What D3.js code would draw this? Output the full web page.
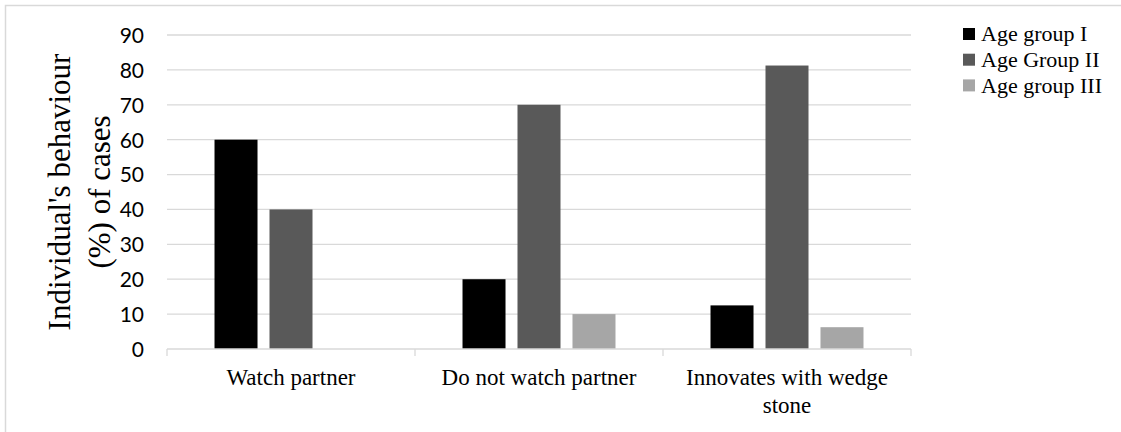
<!DOCTYPE html>
<html>
<head>
<meta charset="utf-8">
<script src="https://cdn.jsdelivr.net/npm/d3@7"></script>
<style>
  html, body { margin: 0; padding: 0; background: #fff; }
  svg { display: block; }
  .serif { font-family: "Liberation Serif", "Times New Roman", Times, "DejaVu Serif", serif; }
  .sans { font-family: Lato, "Open Sans", sans-serif; }
</style>
</head>
<body>
<svg id="chart" width="1121" height="432"></svg>
<script>
// Behaviour categories and the share of cases for each age group
const categories = ["Watch partner", "Do not watch partner", "Innovates with wedge stone"];
const seriesNames = ["Age group I", "Age Group II", "Age group III"];
const ageGroupI = [60, 20, 12.5];
const ageGroupII = [40, 70, 81.25];
const ageGroupIII = [0, 10, 6.25];
const yTicks = [0, 10, 20, 30, 40, 50, 60, 70, 80, 90];
const seriesColors = ["#000000", "#595959", "#a6a6a6"];

const seriesValues = [ageGroupI, ageGroupII, ageGroupIII];

const svg = d3.select("#chart");
const W = 1121, H = 432;

// chart frame (cropped at right and bottom)
svg.append("rect")
  .attr("x", 5.5).attr("y", 5.5)
  .attr("width", W + 20).attr("height", H + 20)
  .attr("fill", "#fff").attr("stroke", "#d9d9d9").attr("stroke-width", 1.5);

const plot = { left: 167, right: 911, top: 35, bottom: 349 };

const x0 = d3.scaleBand().domain(categories).range([plot.left, plot.right]).padding(0);
const x1 = d3.scaleBand().domain(seriesNames).range([0, x0.bandwidth()])
  .paddingInner(0.218).paddingOuter(0.864);
const y = d3.scaleLinear().domain([0, 90]).range([plot.bottom, plot.top]);

// horizontal gridlines
svg.append("g")
  .selectAll("line").data(yTicks.filter(t => t > 0)).join("line")
  .attr("x1", plot.left).attr("x2", plot.right)
  .attr("y1", d => y(d)).attr("y2", d => y(d))
  .attr("stroke", "#d9d9d9").attr("stroke-width", 1.3);

// y tick labels
const yAxis = d3.axisLeft(y).tickValues(yTicks).tickSize(0).tickPadding(0).tickFormat(d3.format("d"));
const yg = svg.append("g").attr("transform", `translate(${plot.left - 23},0)`).call(yAxis);
yg.select(".domain").remove();
yg.attr("font-family", null).attr("font-size", null);
yg.selectAll("text")
  .attr("class", "sans")
  .attr("font-size", 21).attr("fill", "#000").attr("dy", "0.35em");

// bars
const groups = svg.append("g").selectAll("g").data(categories).join("g")
  .attr("transform", d => `translate(${x0(d)},0)`);
groups.selectAll("rect")
  .data((c, ci) => seriesNames.map((s, si) => ({ s, si, v: seriesValues[si][ci] })))
  .join("rect")
  .attr("x", d => x1(d.s))
  .attr("width", x1.bandwidth())
  .attr("y", d => y(d.v))
  .attr("height", d => y(0) - y(d.v))
  .attr("fill", d => seriesColors[d.si]);

// x axis with ticks between categories
const xAxis = d3.axisBottom(x0).tickSize(0).tickFormat("");
const xg = svg.append("g").attr("transform", `translate(0,${plot.bottom})`).call(xAxis);
xg.select(".domain").attr("stroke", "#d9d9d9").attr("stroke-width", 1.3)
  .attr("d", `M${plot.left},0H${plot.right}`);
const bounds = categories.map(c => x0(c)).concat([plot.right]);
xg.selectAll(".sep").data(bounds).join("line").attr("class", "sep")
  .attr("x1", d => d).attr("x2", d => d).attr("y1", 0).attr("y2", 7)
  .attr("stroke", "#d9d9d9").attr("stroke-width", 1.3);

// category labels (wrapped)
const catLines = {
  "Watch partner": ["Watch partner"],
  "Do not watch partner": ["Do not watch partner"],
  "Innovates with wedge stone": ["Innovates with wedge", "stone"]
};
categories.forEach(c => {
  const cx = x0(c) + x0.bandwidth() / 2;
  const t = svg.append("text")
    .attr("class", "serif")
    .attr("x", cx).attr("y", 385)
    .attr("text-anchor", "middle")
    .attr("font-size", 23).attr("fill", "#000");
  catLines[c].forEach((ln, i) => {
    t.append("tspan").attr("x", cx).attr("dy", i === 0 ? 0 : 28).text(ln);
  });
});

// y axis title
const yt = svg.append("text")
  .attr("class", "serif")
  .attr("transform", "translate(0,192) rotate(-90)")
  .attr("text-anchor", "middle")
  .attr("font-size", 31).attr("fill", "#000");
yt.append("tspan").attr("x", 0).attr("y", 70).text("Individual's behaviour");
yt.append("tspan").attr("x", 0).attr("y", 110).text("(%) of cases");

// legend
const lg = svg.append("g").selectAll("g").data(seriesNames).join("g")
  .attr("transform", (d, i) => `translate(963,${34 + i * 25.7})`);
lg.append("rect").attr("x", 0).attr("y", -6).attr("width", 12).attr("height", 12)
  .attr("fill", (d, i) => seriesColors[i]);
lg.append("text").attr("class", "serif").attr("x", 18).attr("y", 0).attr("dy", "0.33em")
  .attr("font-size", 22).attr("fill", "#000").text(d => d);
</script>
</body>
</html>
